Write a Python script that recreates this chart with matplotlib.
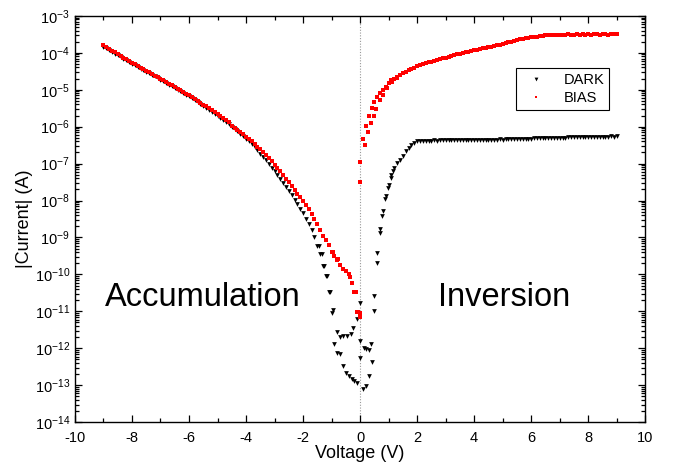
import numpy as np
import matplotlib
matplotlib.use("Agg")
import matplotlib.pyplot as plt
from matplotlib.ticker import LogLocator, MultipleLocator, NullFormatter

plt.rcParams['font.family'] = ['Liberation Sans', 'DejaVu Sans']
plt.rcParams['mathtext.fontset'] = 'custom'
plt.rcParams['mathtext.rm'] = 'Liberation Sans'
plt.rcParams['mathtext.default'] = 'regular'
plt.rcParams['axes.unicode_minus'] = False

# voltage grid of the main sweep, -9 V .. 9 V in 0.1 V steps
voltage = np.round(np.linspace(-9.0, 9.0, 181), 1)

# log10 |I| of the DARK curve, main sweep
dark_log = [
    -3.83, -3.88, -3.92, -3.97, -4.02, -4.06, -4.11, -4.16, -4.20, -4.25,   # -9.0 .. -8.1
    -4.30, -4.34, -4.38, -4.43, -4.47, -4.51, -4.56, -4.60, -4.64, -4.69,   # -8.0 .. -7.1
    -4.73, -4.77, -4.82, -4.86, -4.91, -4.95, -5.00, -5.04, -5.09, -5.13,   # -7.0 .. -6.1
    -5.18, -5.23, -5.28, -5.33, -5.38, -5.43, -5.49, -5.54, -5.59, -5.65,   # -6.0 .. -5.1
    -5.70, -5.76, -5.82, -5.88, -5.94, -6.00, -6.07, -6.13, -6.20, -6.26,   # -5.0 .. -4.1
    -6.33, -6.40, -6.48, -6.56, -6.64, -6.73, -6.82, -6.91, -7.01, -7.11,   # -4.0 .. -3.1
    -7.21, -7.31, -7.42, -7.52, -7.63, -7.74, -7.86, -7.98, -8.10, -8.22,   # -3.0 .. -2.1
    -8.35, -8.49, -8.64, -8.80, -8.98, -9.22, -9.46, -9.78, -10.05, -10.47, # -2.0 .. -1.1
    -11.04, -11.89, -12.12, -12.16, -12.48, -12.66, -12.75, -12.84, -12.89, -12.95,  # -1.0 .. -0.1
    -12.25,                                                                 # 0.0
    -13.11, -13.02, -12.75, -12.37, -10.59, -9.41, -8.78, -8.29, -7.88, -7.57,  # 0.1 .. 1.0
    -7.30, -7.12, -6.98, -6.89, -6.80, -6.67, -6.58, -6.49, -6.44, -6.40,   # 1.1 .. 2.0
    -6.38, -6.38, -6.38, -6.38, -6.38, -6.37, -6.38, -6.37, -6.37, -6.37,   # 2.1 .. 3.0
    -6.37, -6.37, -6.36, -6.37, -6.36, -6.36, -6.36, -6.36, -6.36, -6.36,   # 3.1 .. 4.0
    -6.36, -6.35, -6.36, -6.35, -6.35, -6.35, -6.35, -6.35, -6.34, -6.35,   # 4.1 .. 5.0
    -6.34, -6.34, -6.34, -6.34, -6.34, -6.33, -6.33, -6.33, -6.33, -6.33,   # 5.1 .. 6.0
    -6.32, -6.32, -6.32, -6.32, -6.31, -6.31, -6.31, -6.31, -6.30, -6.30,   # 6.1 .. 7.0
    -6.30, -6.30, -6.29, -6.29, -6.29, -6.29, -6.28, -6.28, -6.28, -6.28,   # 7.1 .. 8.0
    -6.28, -6.27, -6.28, -6.27, -6.27, -6.27, -6.27, -6.26, -6.27, -6.26,   # 8.1 .. 9.0
]

# second sweep of DARK where it leaves the main one (near 0 V)
dark2_v = [-1.45, -1.35, -1.25, -1.15, -1.05, -0.95,
           -0.82, -0.70, -0.59, -0.46, -0.33, -0.24, -0.12, -0.02,
           0.0, 0.12, 0.21, 0.32, 0.39, 0.49, 0.59, 0.68, 0.78, 0.88, 0.99, 1.08, 1.17]
dark2_log = [-9.22, -9.46, -9.78, -10.05, -10.47, -10.97,
             -11.57, -11.70, -11.68, -11.68, -11.62, -11.46, -11.22, -10.76,
             -11.80, -11.98, -12.03, -12.05, -11.89, -10.99, -9.68, -8.87, -8.42, -7.97, -7.66, -7.39, -7.21]

# log10 |I| of the BIAS curve, main sweep
bias_log = [
    -3.80, -3.85, -3.90, -3.95, -3.99, -4.04, -4.09, -4.13, -4.18, -4.22,   # -9.0 .. -8.1
    -4.27, -4.31, -4.36, -4.40, -4.45, -4.49, -4.53, -4.57, -4.62, -4.66,   # -8.0 .. -7.1
    -4.70, -4.75, -4.79, -4.84, -4.88, -4.93, -4.97, -5.02, -5.06, -5.11,   # -7.0 .. -6.1
    -5.15, -5.20, -5.25, -5.30, -5.35, -5.40, -5.45, -5.50, -5.55, -5.60,   # -6.0 .. -5.1
    -5.66, -5.71, -5.77, -5.83, -5.88, -5.97, -6.03, -6.09, -6.15, -6.21,   # -5.0 .. -4.1
    -6.27, -6.33, -6.40, -6.47, -6.54, -6.61, -6.69, -6.77, -6.85, -6.94,   # -4.0 .. -3.1
    -7.03, -7.12, -7.21, -7.31, -7.41, -7.51, -7.61, -7.71, -7.81, -7.90,   # -3.0 .. -2.1
    -8.01, -8.12, -8.24, -8.37, -8.50, -8.64, -8.79, -8.95, -9.07, -9.20,   # -2.0 .. -1.1
    -9.39, -9.50, -9.60, -9.75, -9.84, -9.92, -9.99, -10.24, -10.47, -11.01,  # -1.0 .. -0.1
    -11.15,                                                                 # 0.0
    -6.34, -5.98, -5.70, -5.50, -5.32, -5.19, -5.10, -5.01, -4.92, -4.82,   # 0.1 .. 1.0
    -4.75, -4.70, -4.65, -4.60, -4.55, -4.51, -4.47, -4.44, -4.40, -4.37,   # 1.1 .. 2.0
    -4.34, -4.31, -4.28, -4.26, -4.24, -4.22, -4.20, -4.17, -4.15, -4.13,   # 2.1 .. 3.0
    -4.11, -4.09, -4.07, -4.04, -4.02, -4.00, -3.99, -3.97, -3.95, -3.93,   # 3.1 .. 4.0
    -3.92, -3.90, -3.88, -3.87, -3.85, -3.84, -3.82, -3.80, -3.78, -3.76,   # 4.1 .. 5.0
    -3.74, -3.72, -3.70, -3.68, -3.66, -3.64, -3.62, -3.61, -3.59, -3.58,   # 5.1 .. 6.0
    -3.57, -3.56, -3.55, -3.54, -3.53, -3.53, -3.52, -3.52, -3.52, -3.51,   # 6.1 .. 7.0
    -3.51, -3.51, -3.50, -3.51, -3.51, -3.50, -3.51, -3.50, -3.51, -3.50,   # 7.1 .. 8.0
    -3.51, -3.50, -3.50, -3.51, -3.50, -3.50, -3.51, -3.50, -3.50, -3.50,   # 8.1 .. 9.0
]

# second sweep of BIAS near 0 V
bias2_v = [-1.18, -0.96, -0.78, -0.35, -0.15, -0.07, -0.02,
           -0.02, 0.0, 0.18, 0.29, 0.39, 0.48, 0.56, 0.70, 0.82, 0.96, 1.11, 1.29]
bias2_log = [-9.07, -9.39, -9.57, -10.06, -10.47, -11.01, -11.04,
             -6.95, -7.50, -6.50, -6.14, -5.89, -5.70, -5.52, -5.28, -5.14, -4.96, -4.78, -4.69]

dark_i = 10.0 ** np.array(dark_log)
dark2_i = 10.0 ** np.array(dark2_log)
bias_i = 10.0 ** np.array(bias_log)
bias2_i = 10.0 ** np.array(bias2_log)

fig = plt.figure(figsize=(6.75, 4.66), dpi=100)
ax = fig.add_axes([0.111, 0.094, 0.845, 0.872])

ax.axvline(0, color='#999999', lw=0.8, ls=(0, (1, 1.5)), zorder=0)

ax.plot(voltage, dark_i, 'v', color='black', ms=3.4, mew=0, label='DARK')
ax.plot(dark2_v, dark2_i, 'v', color='black', ms=3.4, mew=0)
ax.plot(voltage, bias_i, 's', color='red', ms=2.6, mew=0, label='BIAS')
ax.plot(bias2_v, bias2_i, 's', color='red', ms=2.6, mew=0)

ax.set_yscale('log')
ax.set_xlim(-10, 10)
ax.set_ylim(1e-14, 1e-3)
ax.xaxis.set_major_locator(MultipleLocator(2))
ax.xaxis.set_minor_locator(MultipleLocator(1))
ax.yaxis.set_major_locator(LogLocator(base=10, numticks=20))
ax.yaxis.set_minor_locator(LogLocator(base=10, subs=np.arange(2, 10), numticks=20))
ax.yaxis.set_minor_formatter(NullFormatter())
ax.tick_params(which='both', direction='in', top=True, right=True, labelsize=10.5, width=0.9)
ax.tick_params(which='major', length=5)
ax.tick_params(which='minor', length=2.8)
ax.tick_params(axis='x', which='major', pad=6)
for s in ax.spines.values():
    s.set_linewidth(1.0)

ax.set_xlabel('Voltage (V)', fontsize=13, labelpad=0)
ax.set_ylabel('|Current| (A)', fontsize=13, labelpad=1)

ax.text(-8.95, 10 ** -10.62, 'Accumulation', fontsize=23.5, ha='left', va='center')
ax.text(5.05, 10 ** -10.62, 'Inversion', fontsize=23.5, ha='center', va='center')

leg = ax.legend(loc='upper right', bbox_to_anchor=(0.937, 0.872), borderaxespad=0,
                fontsize=10.5, frameon=True, fancybox=False, edgecolor='black',
                framealpha=1, handletextpad=0.9, borderpad=0.35, labelspacing=0.3,
                markerscale=0.8)
leg.get_frame().set_linewidth(0.8)

fig.savefig('out.png', dpi=100)
